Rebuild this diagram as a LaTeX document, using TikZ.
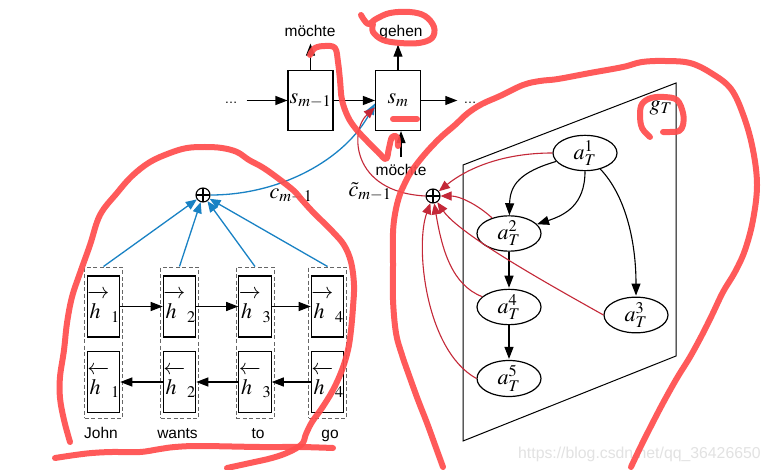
\documentclass[tikz,border=0pt]{standalone}
\usepackage{mathptmx}
\usepackage[no-math]{fontspec}
\setmainfont{Liberation Sans}
\usetikzlibrary{arrows.meta,shapes.geometric,calc}
\definecolor{blueC}{RGB}{25,130,196}
\definecolor{redC}{RGB}{196,40,56}
\definecolor{scr}{RGB}{255,77,77}
\definecolor{wm}{RGB}{226,226,226}
\newcommand{\hfw}[1]{\overrightarrow{\rule{0pt}{21pt}h\mkern5mu}_{\,#1}}
\newcommand{\hbw}[1]{\overleftarrow{\rule{0pt}{21pt}h\mkern5mu}_{\,#1}}
\tikzset{
  blk/.style={-{Triangle[length=12pt,width=9pt]}, line width=1.1pt},
  bluearr/.style={blueC, line width=1.3pt, -{Triangle[length=11pt,width=9pt]}},
  redarr/.style={redC, line width=1.1pt, -{Triangle[length=11pt,width=9pt]}},
  statebox/.style={draw, line width=1.1pt, minimum width=45pt, minimum height=60pt, inner sep=0pt},
  hbox/.style={draw, line width=1.1pt, minimum width=31pt, minimum height=61pt, inner sep=0pt},
  grp/.style={draw=black!60, dash pattern=on 4pt off 2.5pt, line width=1pt, minimum width=38pt, minimum height=151pt, inner sep=0pt},
  anode/.style={ellipse, draw, line width=1.2pt, minimum width=64pt, minimum height=33pt, inner sep=0pt},
  oplus/.style={circle, draw, line width=1.1pt, minimum size=14pt, inner sep=0pt,
    path picture={\draw[line width=1.1pt] (path picture bounding box.north) -- (path picture bounding box.south)
      (path picture bounding box.west) -- (path picture bounding box.east);}},
  mth/.style={font=\fontsize{22}{26}\selectfont},
  wrd/.style={font=\fontsize{15.5}{18}\selectfont},
  dts/.style={font=\fontsize{13}{16}\selectfont, inner sep=0pt},
  scrib/.style={scr, line width=6pt, line cap=round, line join=round, opacity=0.92},
}
\begin{document}
\begin{tikzpicture}[x=1pt,y=-1pt]
\fill[white] (0,0) rectangle (770,470);
\useasboundingbox (0,0) rectangle (770,470);

% ---------- decoder ----------
\node[statebox, mth] (sm1) at (310.5,100.5) {$s_{m-1}$};
\node[statebox, mth] (sm) at (398,100.5) {$s_m$};
\node[dts] (dotsL) at (231,103) {\ldots};
\node[dts] (dotsR) at (470,103) {\ldots};
\draw[blk] ($(dotsL.east|-sm1.west)+(9,0)$) -- (sm1.west);
\draw[blk] (sm1.east) -- (sm.west);
\draw[blk, shorten >=6pt] (sm.east) -- (dotsR.west|-sm.east);

\node[wrd, anchor=base] (out1) at (310,37) {möchte};
\node[wrd, anchor=base] (out2) at (401,37) {gehen};
\node[wrd, anchor=base] (in1) at (401,176) {möchte};
\draw[blk, shorten >=3pt] (sm1.north) -- (sm1.north|-out1.south);
\draw[blk, shorten >=1pt] (sm.north) -- (sm.north|-out2.south);
\draw[blk, shorten <=4pt] (in1.north) -- (in1.north|-sm.south);

% ---------- encoder ----------
\foreach \i/\cx in {1/103.5,2/179.5,3/255,4/327.5}{
  \node[grp] (g\i) at (\cx,342.5) {};
  \node[hbox, mth] (f\i) at (\cx,306.5) {$\hfw{\i}$};
  \node[hbox, mth] (b\i) at (\cx,382) {$\hbw{\i}$};
}
\node[wrd, anchor=base] (w1) at (101,438) {John};
\node[wrd, anchor=base] (w2) at (177.5,438) {wants};
\node[wrd, anchor=base] (w3) at (258,438) {to};
\node[wrd, anchor=base] (w4) at (330,438) {go};
\draw[blk] (f1) -- (f2);
\draw[blk] (f2) -- (f3);
\draw[blk] (f3) -- (f4);
\draw[blk] (b4) -- (b3);
\draw[blk] (b3) -- (b2);
\draw[blk] (b2) -- (b1);

\node[oplus] (opL) at (203,195) {};
\foreach \i in {1,2,3,4}{\draw[bluearr] (g\i.north) -- (opL);}
\draw[bluearr] (opL.east) .. controls (280,195) and (345,160) .. ($(sm.west)+(0,3)$);
\node[mth] (cl) at (291,196) {$c_{m-1}$};

% ---------- graph ----------
\draw[line width=1pt] (463,165) -- (676,83) -- (676,356) -- (463,441) -- cycle;
\node[mth] (gT) at (661,108) {$g_T$};
\node[anode, mth] (a1) at (585,153) {$a_T^1$};
\node[anode, mth] (a2) at (509,233.5) {$a_T^2$};
\node[anode, mth] (a3) at (636,315) {$a_T^3$};
\node[anode, mth] (a4) at (509,307) {$a_T^4$};
\node[anode, mth] (a5) at (509,378.5) {$a_T^5$};
\draw[blk] (a1) .. controls (520,172) and (510,185) .. (a2);
\draw[blk] (a1) .. controls (585,205) and (565,215) .. (a2);
\draw[blk, shorten >=1pt] (a1) .. controls (625,195) and (636,240) .. (a3);
\draw[blk, shorten >=1pt] (a2) -- (a4);
\draw[blk, shorten >=1pt] (a4) -- (a5);

\node[oplus] (opR) at (433,196) {};
\draw[redarr] (a1.west) .. controls (500,153) and (465,170) .. (opR);
\draw[redarr] (a2) .. controls (478,205) and (460,196) .. (opR);
\draw[redarr] (a3.west) .. controls (550,285) and (460,235) .. (opR);
\draw[redarr] (a4) .. controls (452,285) and (442,250) .. (opR);
\draw[redarr] (a5.west) .. controls (425,350) and (415,245) .. (opR);
\draw[redarr] (opR.west) .. controls (350,192) and (350,130) .. ($(sm.west)+(0,7)$);
\node[mth] (ctl) at (370,192) {$\tilde{c}_{m-1}$};

% ---------- watermark ----------
\node[font=\fontsize{15.8}{18}\selectfont, text=wm, anchor=base west, inner sep=0pt] (wmk) at (518,458) {https://blog.csdn.net/qq\_36426650};

% ---------- hand-drawn annotations ----------
\draw[scrib] plot[smooth, tension=0.6] coordinates {(361,15) (368,24) (376,19) (390,13) (410,12) (425,16) (434,27) (432,38) (419,43) (400,43) (383,40) (373,32) (373,24)};
\draw[scrib] plot[smooth, tension=0.6] coordinates {(310,55) (315,48) (325,46) (335,48) (338,62) (340,80) (342,100) (348,117) (356,129) (367,141) (378,152) (386,159) (389,148) (392,137) (397,137) (398,146)};
\draw[scrib] (393,119) -- (417,119);
\draw[scrib] plot[smooth, tension=0.6] coordinates {(70,442) (64,420) (60,398) (60,377) (64,350) (67,323) (72,297) (80,273) (90,245) (100,215) (117,193) (132,176) (150,162) (170,153) (187,148) (205,147) (222,148) (237,152) (249,160) (262,167) (275,176) (293,190) (302,200) (311,210) (322,221) (333,232) (344,245) (351,262) (354,285) (353,307) (351,330) (348,350) (342,370) (333,390) (322,408) (312,422) (306,434) (302,444) (289,452) (272,458) (250,463) (227,468)};
\draw[scrib] plot[smooth, tension=0.6] coordinates {(55,458) (75,455) (92,453) (112,452) (140,452) (160,449) (175,447) (200,446) (260,447) (300,447) (333,448)};
\draw[scrib] plot[smooth, tension=0.6] coordinates {(443,467) (435,445) (427,423) (418,400) (410,378) (402,355) (396,333) (393,300) (393,265) (393,233) (395,214) (399,197) (404,185) (411,172) (424,155) (440,138) (455,125) (468,113) (482,104) (500,96) (523,85) (540,81) (558,79) (590,73) (623,67) (642,62) (665,61) (690,63) (711,73) (731,89) (744,117) (753,150) (757,185) (753,220) (745,250) (735,272) (723,292) (712,315) (702,335) (690,357) (677,378) (663,403) (650,428) (640,448) (631,467)};
\draw[scrib] plot[smooth, tension=0.6] coordinates {(650,137) (642,128) (640,115) (642,104) (651,98) (664,97) (677,100) (683,113) (683,125) (679,131) (670,132) (663,132)};
\end{tikzpicture}
\end{document}
